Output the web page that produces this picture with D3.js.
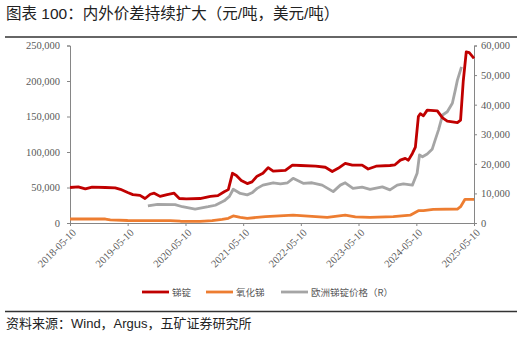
<!DOCTYPE html>
<html><head><meta charset="utf-8">
<script src="https://cdn.jsdelivr.net/npm/d3@7/dist/d3.min.js"></script>
<style>body{margin:0;background:#fff}svg{display:block}</style>
</head><body>
<svg id="c" width="522" height="340"></svg>
<script>
// ---- data ----
const titleText = "图表 100：内外价差持续扩大（元/吨，美元/吨）";
const sourceText = "资料来源：Wind，Argus，五矿证券研究所";
const seriesNames = ["锑锭", "氧化锑", "欧洲锑锭价格（R）"];
const xTickLabels = ["2018-05-10","2019-05-10","2020-05-10","2021-05-10","2022-05-10","2023-05-10","2024-05-10","2025-05-10"];
const leftTicks = [0, 50000, 100000, 150000, 200000, 250000];
const rightTicks = [0, 10000, 20000, 30000, 40000, 50000, 60000];

const ingotDates = ["2018-05-10","2018-07-01","2018-08-15","2018-09-27","2018-12-20","2019-02-20","2019-03-25","2019-05-10","2019-06-12","2019-07-27","2019-08-28","2019-09-30","2019-10-25","2019-12-01","2020-01-15","2020-02-28","2020-04-01","2020-05-15","2020-08-10","2020-10-15","2020-12-01","2021-01-10","2021-02-05","2021-03-03","2021-03-28","2021-04-28","2021-06-05","2021-07-05","2021-08-06","2021-09-12","2021-10-15","2021-11-16","2022-02-01","2022-03-18","2022-05-08","2022-08-12","2022-10-12","2022-11-25","2023-01-01","2023-02-15","2023-04-01","2023-06-02","2023-07-10","2023-08-29","2023-11-25","2023-12-27","2024-01-30","2024-03-01","2024-03-21","2024-04-15","2024-05-04","2024-05-23","2024-06-04","2024-06-24","2024-07-18","2024-09-20","2024-10-23","2024-11-22","2025-01-25","2025-02-14","2025-03-03","2025-03-22","2025-04-10","2025-05-10"];
const ingotValues = [50000,51000,48000,50500,50000,49500,47500,43000,40000,39000,34500,40500,42000,37500,40000,42000,34500,34000,34500,37500,38500,44000,47000,70000,67000,60000,55500,58000,66000,70000,78000,73000,74000,81500,81000,80000,78500,72500,77000,84000,81500,81500,76000,80000,81000,82000,88500,91000,88500,98000,107000,150000,154000,151000,159000,158000,148000,143500,141500,145000,200000,241000,240000,232000];

const oxideDates = ["2018-05-10","2018-12-20","2019-01-20","2019-05-10","2020-02-03","2020-04-08","2020-08-10","2020-10-26","2020-12-28","2021-02-05","2021-03-08","2021-04-22","2021-06-05","2021-09-28","2022-03-22","2022-08-12","2022-10-24","2023-02-15","2023-04-20","2023-07-22","2023-12-16","2024-04-01","2024-05-23","2024-06-24","2024-08-25","2025-01-25","2025-02-14","2025-03-14","2025-05-10"];
const oxideValues = [5600,5600,4500,3500,3300,2500,2400,3300,5000,6600,9900,8000,6600,8900,11000,9000,8000,11000,8500,8000,8900,11000,17300,17300,19300,19700,23000,33400,33400];

const euroDates = ["2019-09-15","2019-11-15","2020-03-05","2020-04-20","2020-07-10","2020-10-01","2020-11-15","2021-01-10","2021-02-12","2021-03-08","2021-04-22","2021-06-05","2021-07-05","2021-08-06","2021-09-12","2021-11-16","2022-01-01","2022-02-15","2022-03-22","2022-05-25","2022-07-20","2022-09-22","2022-12-01","2023-01-15","2023-02-15","2023-04-05","2023-06-02","2023-07-22","2023-10-08","2023-11-25","2024-01-10","2024-02-18","2024-04-15","2024-05-15","2024-05-30","2024-06-18","2024-07-18","2024-08-18","2024-09-06","2024-09-27","2024-10-23","2024-11-22","2024-12-24","2025-01-12","2025-01-25","2025-02-20"];
const euroValues = [5800,6300,6200,5500,4700,5500,6000,7500,9000,11400,10000,9500,10200,11700,12800,13600,13200,13600,15100,13400,13600,12800,10600,12800,13600,11700,12100,11400,12200,11200,12800,13200,12800,16800,23000,22400,23300,24900,28000,31400,36500,37600,40500,45000,48300,52800];

// ---- drawing ----
const svg = d3.select("#c");
const parse = d3.timeParse("%Y-%m-%d");
const colors = ["#C00000", "#ED7D31", "#A5A5A5"];
const axisColor = "#868686", textColor = "#595959";
const L = 70, R = 474, T = 45.5, B = 223;

svg.append("text").attr("x", 6).attr("y", 19).attr("font-family", "Liberation Sans, Noto Sans CJK SC, sans-serif")
  .attr("font-size", 15.5).attr("fill", "#222").text(titleText);
svg.append("line").attr("x1", 5).attr("x2", 517).attr("y1", 37).attr("y2", 37).attr("stroke", "#333").attr("stroke-width", 1.6);
svg.append("line").attr("x1", 5).attr("x2", 517).attr("y1", 311.5).attr("y2", 311.5).attr("stroke", "#333").attr("stroke-width", 1.4);
svg.append("text").attr("x", 6).attr("y", 328).attr("font-family", "Liberation Sans, Noto Sans CJK SC, sans-serif")
  .attr("font-size", 13).attr("fill", "#222").text(sourceText);

const x = d3.scaleTime().domain([parse("2018-05-10"), parse("2025-05-10")]).range([L, R]);
const yL = d3.scaleLinear().domain([0, 250000]).range([B, T]);
const yR = d3.scaleLinear().domain([0, 60000]).range([B, T]);
const fmt = d3.format(",");
const numFont = "Liberation Serif, Times New Roman, serif";

function styleAxis(g) {
  g.selectAll("path,line").attr("stroke", axisColor);
  g.selectAll("text").attr("fill", textColor).attr("font-family", numFont).attr("font-size", 10.5);
}
const gl = svg.append("g").attr("transform", `translate(${L},0)`)
  .call(d3.axisLeft(yL).tickValues(leftTicks).tickFormat(fmt).tickSize(3).tickSizeOuter(3).tickPadding(7));
styleAxis(gl);
const gr = svg.append("g").attr("transform", `translate(${R},0)`)
  .call(d3.axisRight(yR).tickValues(rightTicks).tickFormat(fmt).tickSize(3).tickSizeOuter(3).tickPadding(4));
styleAxis(gr);
const gx = svg.append("g").attr("transform", `translate(0,${B})`)
  .call(d3.axisBottom(x).tickValues(xTickLabels.map(parse)).tickFormat((d, i) => xTickLabels[i]).tickSize(3).tickSizeOuter(0));
styleAxis(gx);
gx.selectAll("text").attr("text-anchor", "end").attr("dx", 0).attr("dy", 0)
  .attr("transform", "translate(2,6) rotate(-45)");

const series = [
  {dates: ingotDates, values: ingotValues, y: yL},
  {dates: oxideDates, values: oxideValues, y: yL},
  {dates: euroDates, values: euroValues, y: yR}
];
const drawOrder = [1, 2, 0];
drawOrder.forEach(i => {
  const s = series[i];
  const pts = s.dates.map((d, k) => [parse(d), s.values[k]]);
  svg.append("path").datum(pts)
    .attr("fill", "none").attr("stroke", colors[i]).attr("stroke-width", 2.8).attr("stroke-linejoin", "round")
    .attr("d", d3.line().x(p => x(p[0])).y(p => s.y(p[1])));
});

// legend
const legX = [142, 206, 281];
const lg = svg.append("g");
seriesNames.forEach((n, i) => {
  lg.append("line").attr("x1", legX[i]).attr("x2", legX[i] + 27).attr("y1", 292).attr("y2", 292)
    .attr("stroke", colors[i]).attr("stroke-width", 2.8);
  lg.append("text").attr("x", legX[i] + 30).attr("y", 295.5).attr("font-family", "Noto Sans CJK SC, sans-serif")
    .attr("font-size", 9.5).attr("fill", textColor).text(n);
});
</script>
</body></html>
